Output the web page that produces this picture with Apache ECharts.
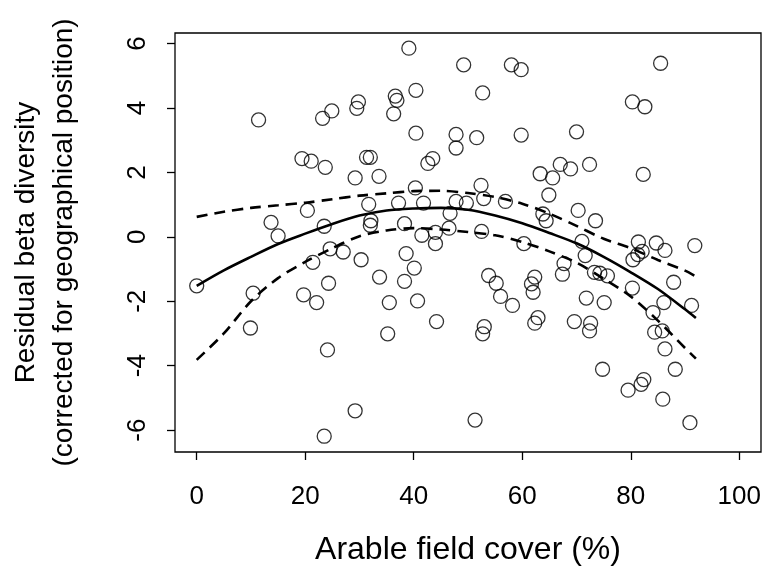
<!DOCTYPE html>
<html>
<head>
<meta charset="utf-8">
<script src="https://cdn.jsdelivr.net/npm/echarts@6/dist/echarts.min.js"></script>
<style>
html,body{margin:0;padding:0;background:#fff;}
#chart{width:763px;height:566px;}
</style>
</head>
<body>
<div id="chart"></div>
<script>
// Scatter data: arable field cover (%) and residual beta diversity
const arableCover = [0.0,9.9,10.4,11.4,13.7,15.0,19.4,19.7,20.4,21.1,21.4,22.1,23.2,23.5,23.5,23.7,24.1,24.3,24.6,24.9,27.0,29.2,29.2,29.5,29.8,30.3,31.3,32.0,31.7,32.1,32.0,33.6,33.7,35.2,35.5,36.3,36.6,36.9,37.2,38.3,38.3,38.6,39.1,40.1,40.3,40.4,40.4,40.7,41.5,41.8,42.6,43.5,44.0,44.0,44.2,46.5,46.7,47.8,47.8,47.8,49.2,49.7,51.3,51.6,52.4,52.5,52.7,52.7,52.9,53.0,53.8,55.2,56.0,56.9,58.0,58.2,59.8,59.8,60.3,61.7,62.0,62.3,62.3,62.9,63.3,63.8,64.4,64.9,65.6,67.0,67.4,67.7,68.9,69.6,70.0,70.3,71.0,71.6,71.8,72.4,72.4,72.6,73.3,73.5,74.3,74.8,75.1,75.7,79.5,80.3,80.3,80.4,81.3,81.4,81.9,82.1,82.3,82.4,82.6,84.1,84.4,84.7,85.5,85.8,85.9,86.1,86.3,86.3,87.9,88.2,90.9,91.2,91.8];
const residualBeta = [-1.52,-2.83,-1.75,3.63,0.45,0.03,2.43,-1.80,0.82,2.35,-0.79,-2.04,3.68,0.33,-6.19,2.16,-3.51,-1.44,-0.37,3.91,-0.47,1.83,-5.40,3.99,4.19,-0.71,2.47,2.47,1.01,0.50,0.36,1.88,-1.25,-3.01,-2.04,3.82,4.37,4.24,1.05,0.41,-1.38,-0.52,5.86,-0.97,1.52,4.55,3.22,-1.99,0.05,1.05,2.28,2.43,0.14,-0.21,-2.63,0.27,0.73,3.18,2.76,1.10,5.34,1.05,-5.69,3.08,1.60,0.17,4.47,-3.01,1.19,-2.79,-1.20,-1.44,-1.85,1.10,5.34,-2.13,5.19,3.16,-0.21,-1.46,-1.72,-1.25,-2.68,-2.51,1.96,0.71,0.50,1.30,1.83,2.25,-1.16,-0.83,2.11,-2.63,3.26,0.82,-0.14,-0.58,-1.90,2.25,-2.92,-2.68,-1.10,0.50,-1.13,-4.11,-2.04,-1.21,-4.76,4.19,-1.59,-0.71,-0.55,-0.16,-4.58,-0.45,1.94,-4.43,4.04,-2.35,-2.96,-0.19,5.39,-2.92,-5.04,-2.04,-0.42,-3.48,-1.41,-4.11,-5.77,-2.13,-0.27];

// Fitted curve and confidence band
const fitX  = [0,5,10,15,20,25,30,35,40,45,50,55,60,65,70,75,80,85,90,92];
const fitY  = [-1.52,-1.04,-0.62,-0.22,0.1,0.4,0.66,0.82,0.88,0.9,0.84,0.66,0.42,0.12,-0.2,-0.62,-1.1,-1.62,-2.25,-2.52];
const upperY = [0.62,0.78,0.9,0.98,1.06,1.17,1.28,1.35,1.42,1.43,1.36,1.24,1.03,0.72,0.34,-0.06,-0.35,-0.72,-1.05,-1.23];
const lowerY = [-3.82,-3.0,-2.0,-1.28,-0.78,-0.35,0.02,0.2,0.27,0.23,0.15,0.05,-0.16,-0.45,-0.8,-1.3,-1.85,-2.6,-3.45,-3.78];

const xTicks = [0,20,40,60,80,100];
const yTicks = [-6,-4,-2,0,2,4,6];

const xTitle = 'Arable field cover (%)';
const yTitle = 'Residual beta diversity\n(corrected for geographical position)';

const FONT = '"Liberation Sans", Arial, sans-serif';

const pts = arableCover.map((x, i) => [x, residualBeta[i]]);
const pair = (ys) => fitX.map((x, i) => [x, ys[i]]);

const chart = echarts.init(document.getElementById('chart'), null, {renderer: 'canvas'});
chart.setOption({
  animation: false,
  backgroundColor: '#fff',
  grid: {left: 175, top: 33, width: 586, height: 419, show: true, borderColor: '#000', borderWidth: 1.3,
         backgroundColor: 'transparent', containLabel: false, outerBoundsMode: 'none'},
  xAxis: {
    type: 'value', min: -4, max: 104,
    axisLine: {show: false, onZero: false},
    splitLine: {show: false},
    axisTick: {show: true, customValues: xTicks, length: 8, inside: false, lineStyle: {color: '#000', width: 1.3}},
    axisLabel: {customValues: xTicks, fontSize: 26, fontFamily: FONT, color: '#000', margin: 32},
    name: xTitle, nameLocation: 'middle', nameGap: 82,
    nameTextStyle: {fontSize: 32, fontFamily: FONT, color: '#000'}
  },
  yAxis: {
    type: 'value', min: -6.68, max: 6.33,
    axisLine: {show: false, onZero: false},
    splitLine: {show: false},
    axisTick: {show: true, customValues: yTicks, length: 8, inside: false, lineStyle: {color: '#000', width: 1.3}},
    axisLabel: {customValues: yTicks, fontSize: 26, fontFamily: FONT, color: '#000', rotate: 90, margin: 24},
    name: yTitle, nameLocation: 'middle', nameGap: 92, nameRotate: 90,
    nameTextStyle: {fontSize: 28, fontFamily: FONT, color: '#000', lineHeight: 38, align: 'center'}
  },
  series: [
    {type: 'scatter', data: pts, symbol: 'circle', symbolSize: 14,
     itemStyle: {color: 'transparent', borderColor: '#000', borderWidth: 1.3}, z: 3},
    {type: 'line', data: pair(fitY), showSymbol: false, smooth: 0.3,
     lineStyle: {color: '#000', width: 2.6, type: 'solid'}, z: 2},
    {type: 'line', data: pair(upperY), showSymbol: false, smooth: 0.3,
     lineStyle: {color: '#000', width: 2.6, type: [11, 7]}, z: 2},
    {type: 'line', data: pair(lowerY), showSymbol: false, smooth: 0.3,
     lineStyle: {color: '#000', width: 2.6, type: [11, 7]}, z: 2}
  ]
});
</script>
</body>
</html>
